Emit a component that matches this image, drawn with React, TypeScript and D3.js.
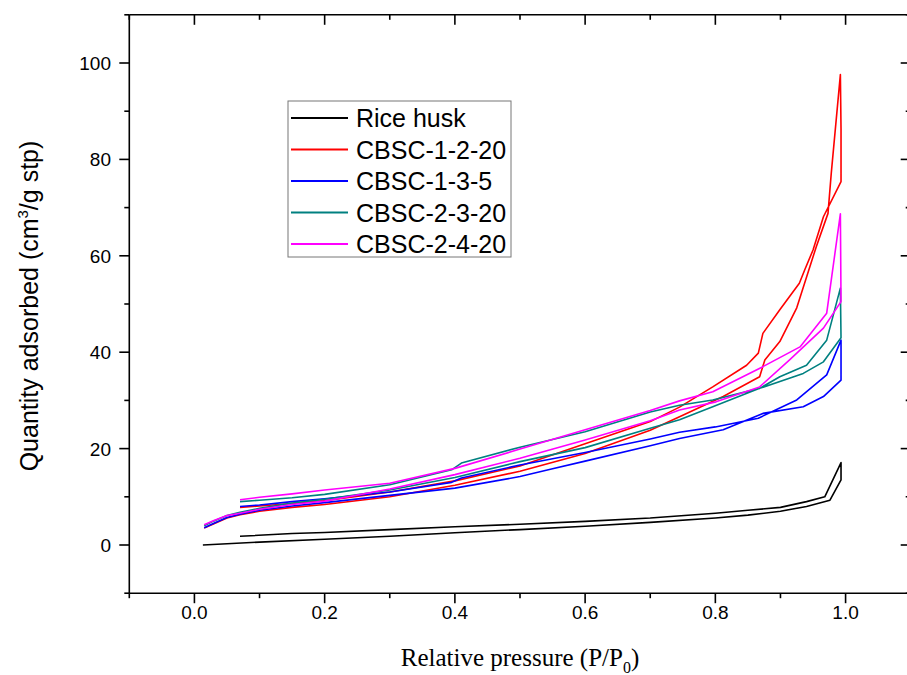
import React from "react";
import * as d3 from "d3";

// ---------- data ----------
const seriesNames = ["Rice husk", "CBSC-1-2-20", "CBSC-1-3-5", "CBSC-2-3-20", "CBSC-2-4-20"];
const seriesColors = ["#000000", "#ff0000", "#0000ff", "#008080", "#ff00ff"];

// Rice husk
const riceAdsP = [0.013, 0.1, 0.2, 0.3, 0.4, 0.5, 0.6, 0.7, 0.8, 0.85, 0.9, 0.94, 0.976, 0.993, 0.993];
const riceAdsV = [0.0, 0.6, 1.2, 1.8, 2.55, 3.2, 3.9, 4.7, 5.6, 6.2, 7.0, 8.0, 9.3, 13.5, 17.1];
const riceDesP = [0.968, 0.94, 0.9, 0.85, 0.8, 0.7, 0.6, 0.5, 0.4, 0.3, 0.2, 0.15, 0.07];
const riceDesV = [10.0, 9.0, 7.8, 7.2, 6.6, 5.6, 4.9, 4.3, 3.8, 3.2, 2.6, 2.4, 1.8];

// CBSC-1-2-20
const redAdsP = [0.015, 0.03, 0.05, 0.07, 0.1, 0.15, 0.2, 0.3, 0.4, 0.5, 0.6, 0.7, 0.745, 0.812, 0.868, 0.876, 0.899, 0.925, 0.955, 0.973, 0.978, 0.992];
const redAdsV = [3.5, 4.4, 5.6, 6.3, 7.0, 7.8, 8.4, 10.0, 12.4, 15.3, 19.0, 23.8, 26.6, 30.8, 34.9, 38.4, 42.2, 49.2, 61.9, 68.8, 77.1, 97.6];
const redDesP = [0.993, 0.993, 0.966, 0.95, 0.937, 0.929, 0.899, 0.873, 0.866, 0.848, 0.796, 0.745, 0.7, 0.6, 0.5, 0.4, 0.3, 0.2, 0.15, 0.1, 0.07];
const redDesV = [86.4, 75.4, 68.1, 61.2, 57.0, 54.3, 48.8, 43.9, 39.8, 37.3, 32.8, 28.6, 25.6, 21.0, 16.4, 13.3, 11.0, 9.2, 8.6, 8.1, 7.8];

// CBSC-1-3-5
const blueAdsP = [0.015, 0.03, 0.05, 0.07, 0.1, 0.15, 0.2, 0.3, 0.4, 0.5, 0.55, 0.6, 0.7, 0.745, 0.812, 0.873, 0.935, 0.966, 0.993, 0.993];
const blueAdsV = [3.6, 4.5, 5.7, 6.4, 7.2, 8.1, 8.8, 10.3, 11.8, 14.2, 15.8, 17.4, 20.6, 22.1, 23.9, 27.3, 28.7, 30.8, 34.2, 42.5];
const blueDesP = [0.971, 0.925, 0.866, 0.8, 0.745, 0.7, 0.6, 0.5, 0.41, 0.395, 0.3, 0.2, 0.15, 0.1, 0.07];
const blueDesV = [35.3, 30.1, 26.3, 24.5, 23.4, 22.0, 19.2, 16.6, 13.9, 13.0, 11.0, 9.6, 9.0, 8.3, 8.0];

// CBSC-2-3-20
const tealAdsP = [0.015, 0.03, 0.05, 0.07, 0.1, 0.15, 0.2, 0.3, 0.4, 0.5, 0.6, 0.7, 0.745, 0.796, 0.868, 0.935, 0.966, 0.993, 0.992];
const tealAdsV = [4.0, 5.0, 6.1, 6.8, 7.6, 8.7, 9.5, 11.4, 14.0, 17.3, 20.2, 24.2, 26.0, 28.7, 32.5, 35.6, 38.0, 43.0, 53.3];
const tealDesP = [0.971, 0.94, 0.899, 0.868, 0.796, 0.745, 0.7, 0.6, 0.5, 0.41, 0.395, 0.3, 0.2, 0.15, 0.1, 0.07];
const tealDesV = [42.5, 37.3, 34.9, 32.5, 30.1, 29.0, 27.6, 23.5, 20.3, 17.0, 15.6, 12.5, 10.5, 9.8, 9.3, 9.0];

// CBSC-2-4-20
const magAdsP = [0.015, 0.03, 0.05, 0.07, 0.1, 0.15, 0.2, 0.3, 0.4, 0.5, 0.6, 0.7, 0.745, 0.801, 0.868, 0.914, 0.966, 0.993, 0.992];
const magAdsV = [4.2, 5.1, 6.1, 6.6, 7.4, 8.4, 9.1, 11.6, 14.6, 18.0, 21.8, 25.8, 28.0, 29.7, 32.8, 38.4, 45.0, 50.5, 68.7];
const magDesP = [0.971, 0.93, 0.873, 0.796, 0.745, 0.7, 0.6, 0.5, 0.4, 0.3, 0.2, 0.15, 0.1, 0.07];
const magDesV = [48.1, 41.1, 37.0, 31.8, 29.9, 27.9, 23.9, 19.9, 15.9, 12.8, 11.4, 10.6, 9.9, 9.4];

const xTicksMajor = [0, 0.2, 0.4, 0.6, 0.8, 1.0];
const xTicksMinor = [-0.1, 0.1, 0.3, 0.5, 0.7, 0.9, 1.1];
const yTicksMajor = [0, 20, 40, 60, 80, 100];
const yTicksMinor = [-10, 10, 30, 50, 70, 90, 110];

// ---------- helpers ----------
function loop(ap: number[], av: number[], dp: number[], dv: number[]): [number, number][] {
  const pts: [number, number][] = [];
  ap.forEach((p, i) => pts.push([p, av[i]]));
  dp.forEach((p, i) => pts.push([p, dv[i]]));
  return pts;
}

const seriesData = [
  loop(riceAdsP, riceAdsV, riceDesP, riceDesV),
  loop(redAdsP, redAdsV, redDesP, redDesV),
  loop(blueAdsP, blueAdsV, blueDesP, blueDesV),
  loop(tealAdsP, tealAdsV, tealDesP, tealDesV),
  loop(magAdsP, magAdsV, magDesP, magDesV),
];

export default function App() {
  const W = 907, H = 675;
  const x = d3.scaleLinear().domain([-0.1, 1.1]).range([129.3, 910.7]);
  const y = d3.scaleLinear().domain([-10, 110]).range([593.2, 14.8]);
  const line = d3.line<[number, number]>().x(d => x(d[0])).y(d => y(d[1]));
  const fx = d3.format(".1f");
  const fy = d3.format("d");
  const x0 = x.range()[0], x1 = x.range()[1];
  const y0 = y.range()[0], y1 = y.range()[1];
  const MAJ = 10, MIN = 5;
  const sans = "'Liberation Sans', Arial, sans-serif";
  const serif = "'Liberation Serif', 'Times New Roman', serif";

  const legX = 288, legY = 101, legW = 223, legH = 156;
  const rowY = (i: number) => 118 + i * 31.5;

  return (
    <svg width={W} height={H} style={{ position: "absolute", left: 0, top: 0, background: "#fff" }}>
      <rect x={0} y={0} width={W} height={H} fill="#fff" />
      {/* series */}
      <g fill="none" strokeWidth={1.6} strokeLinejoin="round">
        {seriesData.map((d, i) => (
          <path key={i} d={line(d) || ""} stroke={seriesColors[i]} />
        ))}
      </g>
      {/* frame */}
      <g stroke="#000" strokeWidth={1.6} fill="none">
        <line x1={x0} y1={y0} x2={x1} y2={y0} />
        <line x1={x0} y1={y1} x2={x1} y2={y1} />
        <line x1={x0} y1={y0} x2={x0} y2={y1} />
        <line x1={x1} y1={y0} x2={x1} y2={y1} />
        {xTicksMajor.map(t => (
          <g key={"xm" + t}>
            <line x1={x(t)} x2={x(t)} y1={y0} y2={y0 + MAJ} />
            <line x1={x(t)} x2={x(t)} y1={y1} y2={y1 + MAJ} />
          </g>
        ))}
        {xTicksMinor.map(t => (
          <g key={"xn" + t}>
            <line x1={x(t)} x2={x(t)} y1={y0} y2={y0 + MIN} />
            <line x1={x(t)} x2={x(t)} y1={y1} y2={y1 + MIN} />
          </g>
        ))}
        {yTicksMajor.map(t => (
          <g key={"ym" + t}>
            <line x1={x0} x2={x0 - MAJ} y1={y(t)} y2={y(t)} />
            <line x1={x1} x2={x1 - MAJ} y1={y(t)} y2={y(t)} />
          </g>
        ))}
        {yTicksMinor.map(t => (
          <g key={"yn" + t}>
            <line x1={x0} x2={x0 - MIN} y1={y(t)} y2={y(t)} />
            <line x1={x1} x2={x1 - MIN} y1={y(t)} y2={y(t)} />
          </g>
        ))}
      </g>
      {/* tick labels */}
      <g fontFamily={sans} fontSize={19} fill="#000">
        {xTicksMajor.map(t => (
          <text key={"xl" + t} x={x(t)} y={619} textAnchor="middle">{fx(t)}</text>
        ))}
        {yTicksMajor.map(t => (
          <text key={"yl" + t} x={111} y={y(t) + 7} textAnchor="end">{fy(t)}</text>
        ))}
      </g>
      {/* axis titles */}
      <text x={520} y={666} textAnchor="middle" fontFamily={serif} fontSize={25} fill="#000">
        Relative pressure (P/P<tspan fontSize={16} dy={7}>0</tspan><tspan dy={-7}>)</tspan>
      </text>
      <text transform={`translate(38,306) rotate(-90)`} textAnchor="middle" fontFamily={sans} fontSize={25} fill="#000">
        Quantity adsorbed (cm<tspan fontSize={15} dy={-10}>3</tspan><tspan dy={10}>/g stp)</tspan>
      </text>
      {/* legend */}
      <rect x={legX} y={legY} width={legW} height={legH} fill="#fff" stroke="#777" strokeWidth={1} />
      {seriesNames.map((n, i) => (
        <g key={n}>
          <line x1={291} x2={348} y1={rowY(i)} y2={rowY(i)} stroke={seriesColors[i]} strokeWidth={2} />
          <text x={356} y={rowY(i) + 9} fontFamily={sans} fontSize={25} fill="#000">{n}</text>
        </g>
      ))}
    </svg>
  );
}
